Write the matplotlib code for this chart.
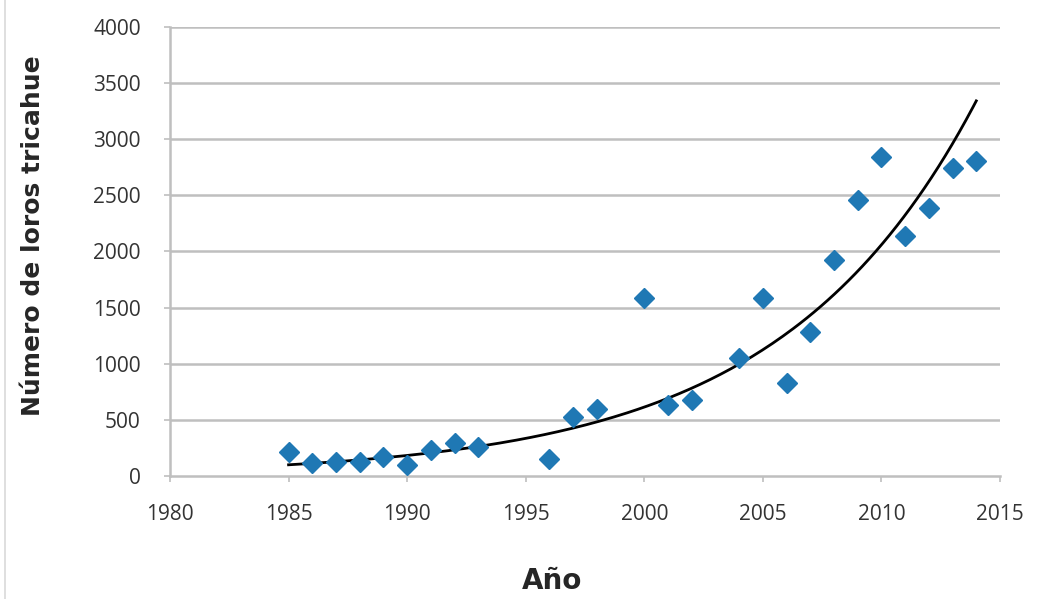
import numpy as np
import matplotlib
matplotlib.use("Agg")
import matplotlib.pyplot as plt
from matplotlib.lines import Line2D

years = [1985, 1986, 1987, 1988, 1989, 1990, 1991, 1992, 1993, 1996, 1997, 1998,
         2000, 2001, 2002, 2004, 2005, 2006, 2007, 2008, 2009, 2010, 2011, 2012, 2013, 2014]
counts = [210, 115, 125, 125, 170, 100, 230, 290, 255, 150, 530, 595,
          1590, 630, 675, 1055, 1590, 825, 1285, 1925, 2455, 2840, 2135, 2385, 2740, 2810]
xticks = [1980, 1985, 1990, 1995, 2000, 2005, 2010, 2015]
yticks = [0, 500, 1000, 1500, 2000, 2500, 3000, 3500, 4000]

# exponential trend (Excel-style)
trend_a = 100.0
trend_b = 0.121

plt.rcParams['font.family'] = ['Open Sans', 'DejaVu Sans']

fig = plt.figure(figsize=(10.41, 5.99), dpi=100)
ax = fig.add_axes([0.1633, 0.2053, 0.9606 - 0.1633, 0.955 - 0.2053])

grid_c = '#BFBFBF'
for y in yticks[1:]:
    ax.axhline(y, color=grid_c, lw=1.8, zorder=0)

xs = np.linspace(years[0], years[-1], 200)
ax.plot(xs, trend_a * np.exp(trend_b * (xs - years[0])), color='black', lw=2.0, zorder=2)
ax.plot(years, counts, linestyle='none', marker='D', markersize=10,
        color='#1F78B4', markeredgecolor='#1F78B4', zorder=3)

ax.set_xlim(1980, 2015)
ax.set_ylim(0, 4000)
ax.set_xticks(xticks)
ax.set_yticks(yticks)
ax.tick_params(axis='both', labelsize=15, colors='#333333', length=4, width=1.2, color=grid_c)
ax.tick_params(axis='y', pad=17)
ax.tick_params(axis='x', pad=16)
for s in ['top', 'right']:
    ax.spines[s].set_visible(False)
for s in ['left', 'bottom']:
    ax.spines[s].set_color(grid_c)
    ax.spines[s].set_linewidth(1.8)

fig.text(552 / 1041, 1 - 581 / 599, 'Año', fontsize=20, fontweight='bold',
         family='DejaVu Sans', color='#262626', ha='center', va='center')
fig.text(33 / 1041, 1 - 236 / 599, 'Número de loros tricahue', fontsize=18,
         fontweight='bold', family='DejaVu Sans', color='#262626',
         ha='center', va='center', rotation=90)

fig.add_artist(Line2D([5 / 1041, 5 / 1041], [0, 1], transform=fig.transFigure,
                      color='#D9D9D9', lw=1.2))

fig.savefig('out.png', dpi=100)
